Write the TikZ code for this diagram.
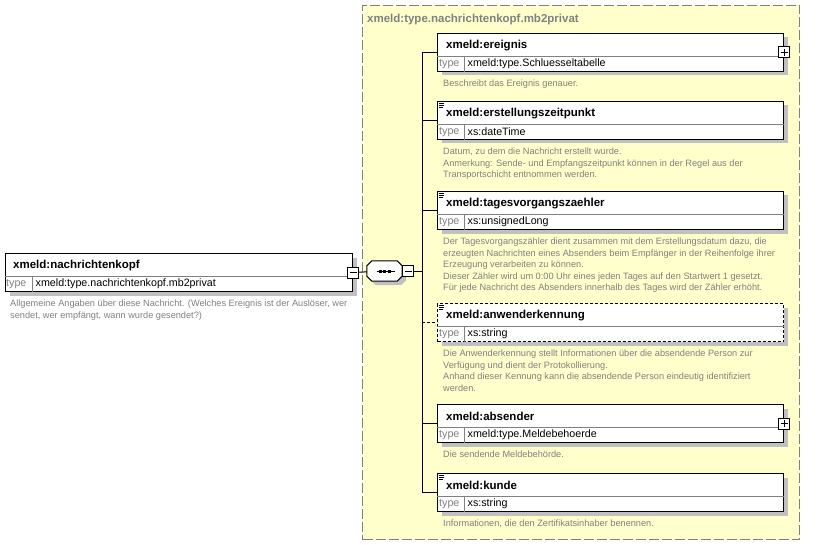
\documentclass[tikz,border=0pt]{standalone}
\usepackage{fontspec}
\setmainfont{Liberation Sans}
\usetikzlibrary{positioning, shadows}
\definecolor{xyellow}{RGB}{255,255,204}
\definecolor{xgray}{RGB}{128,128,128}
\definecolor{xshadow}{RGB}{192,192,192}

\begin{document}
\begin{tikzpicture}[
  x=1pt, y=-1pt,
  group/.style={draw=xgray, fill=xyellow, line width=1pt, dash pattern=on 10pt off 3pt,
                minimum width=437pt, minimum height=534pt, inner sep=0pt, anchor=north west},
  gtitle/.style={font=\fontsize{11.5}{13}\selectfont\bfseries, text=xgray, anchor=west, inner sep=0pt},
  elem/.style={draw=black, fill=white, line width=1pt,
               minimum width=346pt, minimum height=38pt, inner sep=0pt, anchor=north west,
               general shadow={fill=xshadow, shadow xshift=4pt, shadow yshift=-4pt}},
  optelem/.style={elem, dash pattern=on 3pt off 2pt},
  ename/.style={font=\fontsize{11.5}{13}\selectfont\bfseries, anchor=west, inner sep=0pt},
  etype/.style={font=\fontsize{10.7}{12}\selectfont, anchor=west, inner sep=0pt},
  tlabel/.style={etype, text=xgray},
  descr/.style={font=\fontsize{9.2}{11.5}\selectfont, text=xgray, align=left, inner sep=0pt},
  pm/.style={draw=black, fill=white, line width=1pt, minimum size=11pt, inner sep=0pt},
  minus/.style={pm, path picture={\draw ([xshift=2pt]path picture bounding box.west)
                  -- ([xshift=-2pt]path picture bounding box.east);}},
  plus/.style={pm, path picture={\draw ([xshift=2pt]path picture bounding box.west)
                  -- ([xshift=-2pt]path picture bounding box.east);
                \draw ([yshift=-2pt]path picture bounding box.north)
                  -- ([yshift=2pt]path picture bounding box.south);}},
  seqbox/.style={draw=black, fill=white, line width=1pt,
                 general shadow={fill=xshadow, shadow xshift=4pt, shadow yshift=-4pt}},
  conn/.style={line width=1pt}
]
  \useasboundingbox (0,0) rectangle (818,545);

  % complex type frame
  \node[group] (grp) at (362,5) {};
  \node[gtitle] (grp-title) at ([xshift=5pt,yshift=-14.5pt]grp.north west)
    {xmeld:type.nachrichtenkopf.mb2privat};

  % root element
  \node[elem, minimum width=347pt] (kopf) at (5,253) {};
  \draw[xgray] ([yshift=-23pt]kopf.north west) -- ([yshift=-23pt]kopf.north east);
  \draw[xgray] ([xshift=27pt,yshift=-23pt]kopf.north west) -- ([xshift=27pt]kopf.south west);
  \node[ename] (kopf-name) at ([xshift=8pt,yshift=-12.5pt]kopf.north west) {xmeld:nachrichtenkopf};
  \node[tlabel] (kopf-tl) at ([xshift=1pt,yshift=-31pt]kopf.north west) {type};
  \node[etype] (kopf-type) at ([xshift=30.5pt,yshift=-31pt]kopf.north west)
    {xmeld:type.nachrichtenkopf.mb2privat};
  \node[descr, below right=8pt and 5pt of kopf.south west] (kopf-doc)
    {Allgemeine Angaben über diese Nachricht. (Welches Ereignis ist der Auslöser, wer\\
     sendet, wer empfängt, wann wurde gesendet?)};
  \node[minus] (kopfminus) at (kopf.east) {};

  % sequence
  \node[minimum width=35pt, minimum height=20pt, inner sep=0pt] (seq) at (384.5,271) {};
  \draw[seqbox] ([xshift=5pt]seq.north west) -- ([xshift=-5pt]seq.north east)
    -- ([yshift=-5pt]seq.north east) -- ([yshift=5pt]seq.south east)
    -- ([xshift=-5pt]seq.south east) -- ([xshift=5pt]seq.south west)
    -- ([yshift=5pt]seq.south west) -- ([yshift=-5pt]seq.north west) -- cycle;
  \draw[conn] ([xshift=-8pt]seq.center) -- ([xshift=10pt]seq.center);
  \foreach \dx in {-4.5,0,4.5}
    \fill ([xshift=\dx pt]seq.center) +(-1.5,-1.5) rectangle +(1.5,1.5);
  \node[minus, anchor=west] (seqminus) at (seq.east) {};
  \coordinate (bus) at (422,271);
  \draw[conn] (kopfminus) -- (seq);
  \draw[conn] (seqminus) -- (bus);

  % child elements
  \foreach \n/\y/\t/\st in {ereignis/33/xmeld:type.Schluesseltabelle/elem,
      erstellungszeitpunkt/101/xs:dateTime/elem,
      tagesvorgangszaehler/191/xs:unsignedLong/elem,
      anwenderkennung/303/xs:string/optelem,
      absender/404/xmeld:type.Meldebehoerde/elem,
      kunde/473/xs:string/elem}{
    \node[\st] (\n) at (437,\y) {};
    \draw[xgray] ([yshift=-23pt]\n.north west) -- ([yshift=-23pt]\n.north east);
    \draw[xgray] ([xshift=27pt,yshift=-23pt]\n.north west) -- ([xshift=27pt]\n.south west);
    \node[ename] (\n-name) at ([xshift=9pt,yshift=-12.5pt]\n.north west) {xmeld:\n};
    \node[tlabel] (\n-tl) at ([xshift=2pt,yshift=-31pt]\n.north west) {type};
    \node[etype] (\n-type) at ([xshift=30.5pt,yshift=-31pt]\n.north west) {\t};
  }
  \foreach \n in {erstellungszeitpunkt, tagesvorgangszaehler, anwenderkennung, kunde}
    \foreach \k/\w in {2/5, 4/5, 6/4}
      \draw[line width=0.8pt] ([xshift=2pt,yshift=-\k pt]\n.north west) -- ++(\w,0);
  \node[plus] (ereignisplus) at (ereignis.east) {};
  \node[plus] (absenderplus) at (absender.east) {};

  \draw[conn] (bus |- ereignis.west) -- (bus |- kunde.west);
  \foreach \n in {ereignis, erstellungszeitpunkt, tagesvorgangszaehler, absender, kunde}
    \draw[conn] (bus |- \n.west) -- (\n.west);
  \draw[conn, dash pattern=on 3pt off 2pt] (bus |- anwenderkennung.west) -- (anwenderkennung.west);

  % annotations
  \node[descr, below right=8pt and 6pt of ereignis.south west] (ereignis-doc)
    {Beschreibt das Ereignis genauer.};
  \node[descr, below right=8pt and 6pt of erstellungszeitpunkt.south west] (erstellungszeitpunkt-doc)
    {Datum, zu dem die Nachricht erstellt wurde.\\
     Anmerkung: Sende- und Empfangszeitpunkt können in der Regel aus der\\
     Transportschicht entnommen werden.};
  \node[descr, below right=8pt and 6pt of tagesvorgangszaehler.south west] (tagesvorgangszaehler-doc)
    {Der Tagesvorgangszähler dient zusammen mit dem Erstellungsdatum dazu, die\\
     erzeugten Nachrichten eines Absenders beim Empfänger in der Reihenfolge ihrer\\
     Erzeugung verarbeiten zu können.\\
     Dieser Zähler wird um 0:00 Uhr eines jeden Tages auf den Startwert 1 gesetzt.\\
     Für jede Nachricht des Absenders innerhalb des Tages wird der Zähler erhöht.};
  \node[descr, below right=8pt and 6pt of anwenderkennung.south west] (anwenderkennung-doc)
    {Die Anwenderkennung stellt Informationen über die absendende Person zur\\
     Verfügung und dient der Protokollierung.\\
     Anhand dieser Kennung kann die absendende Person eindeutig identifiziert\\
     werden.};
  \node[descr, below right=8pt and 6pt of absender.south west] (absender-doc)
    {Die sendende Meldebehörde.};
  \node[descr, below right=8pt and 6pt of kunde.south west] (kunde-doc)
    {Informationen, die den Zertifikatsinhaber benennen.};
\end{tikzpicture}
\end{document}
